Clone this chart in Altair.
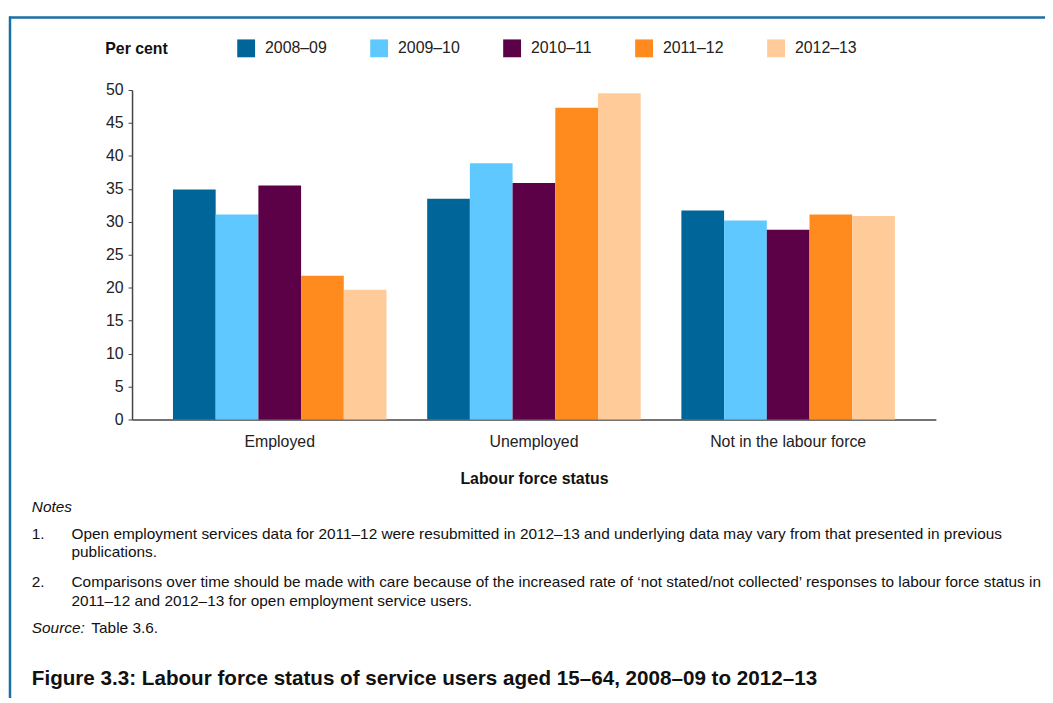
import altair as alt
import pandas as pd

categories = ["Employed", "Unemployed", "Not in the labour force"]
years = ["2008–09", "2009–10", "2010–11", "2011–12", "2012–13"]
v_2008_09 = [34.9, 33.5, 31.7]
v_2009_10 = [31.1, 38.9, 30.2]
v_2010_11 = [35.5, 35.9, 28.8]
v_2011_12 = [21.8, 47.3, 31.1]
v_2012_13 = [19.7, 49.5, 30.9]
colors = ["#006699", "#5fc9ff", "#5c0048", "#ff8b1e", "#ffcc99"]
y_ticks = [0, 5, 10, 15, 20, 25, 30, 35, 40, 45, 50]

series = [v_2008_09, v_2009_10, v_2010_11, v_2011_12, v_2012_13]
rows = []
for yr, vals in zip(years, series):
    for cat, v in zip(categories, vals):
        rows.append({"status": cat, "year": yr, "value": v})
df = pd.DataFrame(rows)

note1a = "Open employment services data for 2011–12 were resubmitted in 2012–13 and underlying data may vary from that presented in previous"
note1b = "publications."
note2a = "Comparisons over time should be made with care because of the increased rate of ‘not stated/not collected’ responses to labour force status in"
note2b = "2011–12 and 2012–13 for open employment service users."
fig_title = "Figure 3.3: Labour force status of service users aged 15–64, 2008–09 to 2012–13"

SANS = "Liberation Sans, Arial, sans-serif"
NOTE = "Liberation Sans, Arial, sans-serif"

bars = alt.Chart(df).mark_bar().encode(
    x=alt.X("status:N", sort=categories,
            scale=alt.Scale(paddingInner=0.16, paddingOuter=0.161),
            axis=alt.Axis(title="Labour force status", labelAngle=0, ticks=False,
                          labelPadding=14, titlePadding=22,
                          labelFont=SANS, labelFontSize=16, labelColor="#222",
                          titleFont=SANS, titleFontSize=16, titleFontWeight="bold",
                          titleColor="#111",
                          domainColor="#444", domainWidth=1.5)),
    xOffset=alt.XOffset("year:N", sort=years,
                        scale=alt.Scale(paddingInner=0, paddingOuter=0)),
    y=alt.Y("value:Q", scale=alt.Scale(domain=[0, 50], nice=False),
            axis=alt.Axis(title=None, values=y_ticks, grid=False, tickSize=4,
                          tickColor="#444", domainColor="#444", domainWidth=1.5,
                          labelPadding=5, labelFont=SANS, labelFontSize=16,
                          labelColor="#222")),
    color=alt.Color("year:N", sort=years,
                    scale=alt.Scale(domain=years, range=colors),
                    legend=alt.Legend(title=None, orient="none", legendX=106, legendY=-51,
                                      direction="horizontal", symbolType="square",
                                      symbolSize=324, symbolStrokeWidth=0,
                                      symbolOpacity=1, labelFont=SANS, labelFontSize=16,
                                      labelColor="#222", labelOffset=10,
                                      columnPadding=43, padding=0)),
)


def txt(text, x, y, size, weight="normal", style="normal", font=NOTE, color="#111"):
    return alt.Chart(pd.DataFrame({"t": [text]})).mark_text(
        align="left", baseline="alphabetic", font=font, fontSize=size,
        fontWeight=weight, fontStyle=style, color=color
    ).encode(text="t:N", x=alt.value(x), y=alt.value(y))


OX, OY = 133, 88  # plot origin on page (for converting page positions)


def px(x):
    return x - OX


def py(y):
    return y - OY


frame_top = alt.Chart(pd.DataFrame({"a": [0]})).mark_rule(color="#1a6fa3", strokeWidth=2.5).encode(
    x=alt.value(px(9)), x2=alt.value(px(1060)), y=alt.value(py(15)))
frame_left = alt.Chart(pd.DataFrame({"a": [0]})).mark_rule(color="#1a6fa3", strokeWidth=2.5).encode(
    x=alt.value(px(10)), y=alt.value(py(14)), y2=alt.value(py(710)))

NS = 15.5
layers = [
    frame_top, frame_left, bars,
    txt("Per cent", px(106), py(52), 16, weight="bold", font=SANS),
    txt("Notes", px(32), py(513), NS, style="italic"),
    txt("1.", px(32), py(540), NS),
    txt(note1a, px(72), py(540), NS),
    txt(note1b, px(72), py(559), NS),
    txt("2.", px(32), py(589), NS),
    txt(note2a, px(72), py(589), NS),
    txt(note2b, px(72), py(608), NS),
    txt("Source:", px(32), py(635), NS, style="italic"),
    txt("Table 3.6.", px(92), py(635), NS),
    txt(fig_title, px(32), py(688), 20.8, weight="bold"),
]

chart = alt.layer(*layers).properties(
    width=810, height=332,
    autosize=alt.AutoSizeParams(type="none"),
    padding={"left": 125, "top": 80, "right": 110, "bottom": 278},
).configure(background="white").configure_view(stroke=None)

chart.save("out.html", embed_options={"renderer": "svg", "actions": False})
